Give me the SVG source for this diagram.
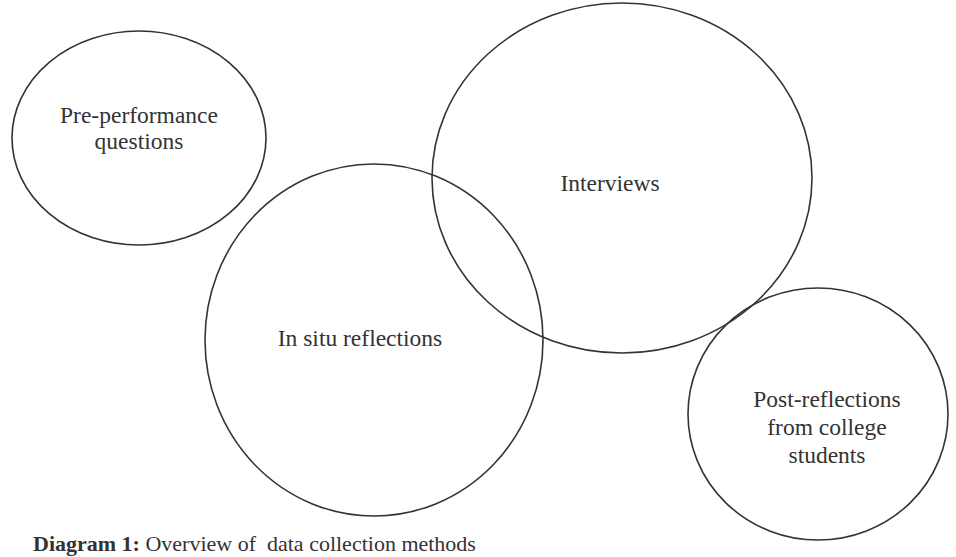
<svg xmlns="http://www.w3.org/2000/svg" width="956" height="557" viewBox="0 0 956 557">
<style>
.c{fill:none;stroke:#333;stroke-width:1.6}
.t{font-family:"Liberation Serif","Times New Roman",serif;font-size:23.5px;fill:#333;text-anchor:middle}
.cap{font-family:"Liberation Serif","Times New Roman",serif;font-size:22px;fill:#333}
</style>
<rect width="956" height="557" fill="#fff"/>
<g id="pre">
<ellipse class="c" cx="139" cy="138" rx="127" ry="107"/>
<text class="t" x="139" y="123">Pre-performance</text>
<text class="t" x="139" y="149">questions</text>
</g>
<g id="interviews">
<ellipse class="c" cx="622" cy="178" rx="190" ry="175"/>
<text class="t" x="610" y="191">Interviews</text>
</g>
<g id="insitu">
<ellipse class="c" cx="374" cy="340" rx="169" ry="176"/>
<text class="t" x="360" y="346">In situ reflections</text>
</g>
<g id="post">
<ellipse class="c" cx="818" cy="414" rx="130" ry="126"/>
<text class="t" x="827" y="407">Post-reflections</text>
<text class="t" x="827" y="435">from college</text>
<text class="t" x="827" y="463">students</text>
</g>
<g id="connectors"></g>
<text class="cap" x="33" y="551" xml:space="preserve"><tspan font-weight="bold">Diagram 1:</tspan> Overview of  data collection methods</text>
</svg>
